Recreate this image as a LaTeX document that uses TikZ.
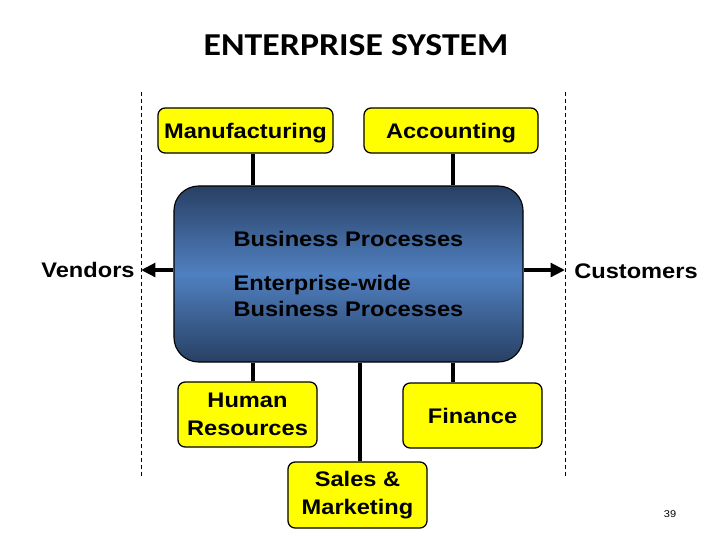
\documentclass[tikz,border=0pt]{standalone}
\usepackage{fontspec}
\setmainfont{Liberation Sans}[FakeStretch=1.12]
\newfontfamily\titlefont{Carlito}[FakeStretch=1.12]
\usetikzlibrary{arrows.meta}
\definecolor{boxyellow}{RGB}{255,255,0}
\definecolor{navy}{RGB}{40,64,100}
\definecolor{midblue}{RGB}{80,128,192}

\begin{document}
\begin{tikzpicture}[x=0.025cm, y=-0.025cm,
    dept/.style={draw, fill=boxyellow, rounded corners=0.18cm, line width=0.9pt,
      align=center, inner sep=0pt, font=\fontsize{15}{19.5}\selectfont\bfseries},
    stem/.style={line width=2.8pt},
    flow/.style={line width=2.8pt, -{Triangle[length=0.36cm,width=0.34cm]}},
    sep/.style={line width=0.6pt, dash pattern=on 3pt off 2pt}]
    \useasboundingbox (0,0) rectangle (720,540);

    \node[font=\titlefont\fontsize{22.7}{26}\selectfont\bfseries] (title) at (356,45) {ENTERPRISE SYSTEM};

    \draw[sep] (141,92) -- (141,478);
    \draw[sep] (565,92) -- (565,478);

    \node[draw, line width=0.8pt, rounded corners=0.62cm, minimum width=8.725cm, minimum height=4.4cm,
      top color=navy, bottom color=navy, middle color=midblue, align=left,
      font=\fontsize{15}{18.5}\selectfont\bfseries] (bp) at (348.5,274)
      {Business Processes\\[0.46cm]Enterprise-wide\\Business Processes};

    \node[dept, minimum width=4.375cm, minimum height=1.125cm, text depth=0pt] (mfg) at (245.5,130.5) {Manufacturing};
    \node[dept, minimum width=4.35cm, minimum height=1.125cm, text depth=0pt] (acc) at (451,130.5) {Accounting};
    \node[dept, minimum width=3.475cm, minimum height=1.625cm] (hr) at (247.5,414.5) {Human\\Resources};
    \node[dept, minimum width=3.475cm, minimum height=1.625cm] (fin) at (472.5,415.5) {Finance};
    \node[dept, minimum width=3.475cm, minimum height=1.65cm] (sales) at (357.5,495) {Sales \&\\Marketing};

    \node[font=\fontsize{15}{18}\selectfont\bfseries] (vend) at (88,270) {Vendors};
    \node[font=\fontsize{15}{18}\selectfont\bfseries] (cust) at (636,271) {Customers};
    \node[font=\fontsize{7}{8}\selectfont] (page) at (670,514) {39};

    \coordinate (xl) at (253,0);
    \coordinate (xm) at (360,0);
    \coordinate (xr) at (453,0);
    \coordinate (vtip) at (141,270);
    \coordinate (ctip) at (565,270);

    \draw[stem] (mfg.south -| xl) -- (bp.north -| xl);
    \draw[stem] (acc.south -| xr) -- (bp.north -| xr);
    \draw[stem] (bp.south -| xl) -- (hr.north -| xl);
    \draw[stem] (bp.south -| xm) -- (sales.north -| xm);
    \draw[stem] (bp.south -| xr) -- (fin.north -| xr);

    \draw[flow] (bp.west |- vtip) -- (vtip);
    \draw[flow] (bp.east |- ctip) -- (ctip);

\end{tikzpicture}
\end{document}
